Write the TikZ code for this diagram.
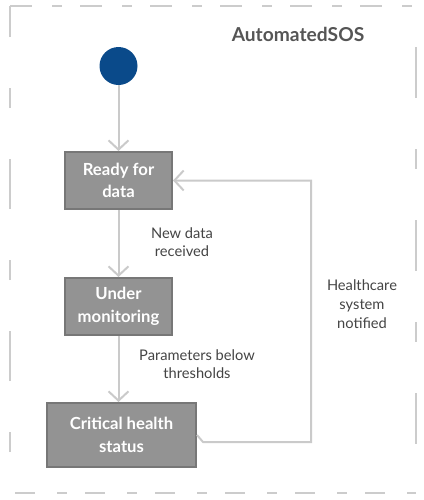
\documentclass[tikz,border=0pt]{standalone}
\usepackage{fontspec}
\setmainfont{Lato}
\usetikzlibrary{arrows.meta,calc}
\definecolor{framegray}{HTML}{CCCCCC}
\definecolor{linegray}{HTML}{CACACA}
\definecolor{boxfill}{HTML}{939393}
\definecolor{boxedge}{HTML}{777777}
\definecolor{startblue}{HTML}{0A4A8A}
\definecolor{notegray}{HTML}{444444}
\definecolor{titlegray}{HTML}{555555}

\begin{document}
\begin{tikzpicture}[x=0.75pt,y=-0.75pt,
    frameside/.style={draw=framegray, line width=1.5pt},
    state/.style={draw=boxedge, fill=boxfill, line width=1.5pt, text=white,
      font=\bfseries\fontsize{12.5}{17}\selectfont, align=center, inner sep=0pt},
    flowline/.style={draw=linegray, line width=1.5pt,
      -{Straight Barb[length=7pt,width=15pt]}},
    note/.style={text=notegray, font=\fontsize{11}{14}\selectfont, align=center}]
    \useasboundingbox (0,0) rectangle (424,500);

    % dashed frame
    \draw[frameside, dash pattern=on 16.5pt off 15pt on 7.5pt off 13.5pt] (10,6) -- (416,6);
    \draw[frameside, dash pattern=on 38.25pt off 38.25pt on 15pt off 38.25pt, dash phase=99pt] (416,6) -- (416,493);
    \draw[frameside, dash pattern=on 15pt off 16.5pt on 7.5pt off 13.5pt, dash phase=48.75pt] (10,493) -- (416,493);
    \draw[frameside, dash pattern=on 15pt off 38.25pt on 37.5pt off 38.25pt, dash phase=98.25pt] (10,493) -- (10,6);
    \node[text=titlegray, font=\bfseries\fontsize{14.4}{17}\selectfont] (title) at (298,34) {AutomatedSOS};

    % states
    \node[circle, fill=startblue, minimum size=28.5pt, inner sep=0pt] (start) at (118.5,66) {};
    \node[state, minimum width=80.25pt, minimum height=42.75pt] (ready) at (118.5,180.5) {Ready for\\data};
    \node[state, minimum width=80.25pt, minimum height=42.75pt] (under) at (118.5,306.5) {Under\\monitoring};
    \node[state, minimum width=111.75pt, minimum height=48pt] (crit) at (121.5,435) {Critical health\\status};

    % transitions
    \draw[flowline] (start) -- (ready);
    \draw[flowline] (ready) -- (under);
    \draw[flowline] (under.south) -- (under.south |- crit.north);
    \coordinate (back) at ($(ready.east)+(138,0)$);
    \draw[flowline] (crit.east) -- ++(6,7) -| (back) -- (ready.east);

    \node[note] (lbl1) at (182,242) {New data\\received};
    \node[note] (lbl2) at (197,364) {Parameters below\\thresholds};
    \node[note] (lbl3) at (362,304) {Healthcare\\system\\notified};
\end{tikzpicture}
\end{document}
